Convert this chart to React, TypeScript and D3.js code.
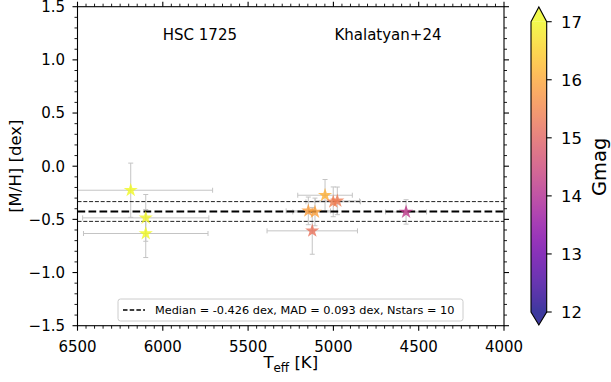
import * as d3 from "d3";

// stars in HSC 1725 (Khalatyan+24)
const teff = [6188, 6100, 6100, 5049, 5001, 4977, 5147, 5108, 5124, 4574];
const teffErr = [480, 370, 365, 160, 160, 130, 130, 130, 265, 120];
const mh = [-0.226, -0.486, -0.633, -0.273, -0.335, -0.326, -0.42, -0.43, -0.608, -0.43];
const mhErr = [0.255, 0.22, 0.226, 0.148, 0.14, 0.13, 0.13, 0.13, 0.22, 0.115];
const gmag = [17.0, 16.95, 17.0, 16.1, 15.4, 15.35, 15.85, 15.9, 15.2, 14.2];

const medianMH = -0.426;
const madMH = 0.093;
const legendLabel = "Median = -0.426 dex, MAD = 0.093 dex, Nstars = 10";
const clusterName = "HSC 1725";
const sourceName = "Khalatyan+24";
const cbarTicks = [12, 13, 14, 15, 16, 17];

const W = 611;
const H = 382;
const left = 77.5, right = 504, top = 6.7, bottom = 325.7;
const FONT = "DejaVu Sans, sans-serif";

const x = d3.scaleLinear().domain([6500, 4000]).range([left, right]);
const y = d3.scaleLinear().domain([-1.5, 1.5]).range([bottom, top]);
const cbar = d3.scaleLinear().domain([12, 17]).range([312, 21.7]);
const color = (g: number) => d3.interpolatePlasma((Math.min(17, Math.max(12, g)) - 12) / 5);

const star = d3.symbol(d3.symbolStar, 62)()!;

export default function App() {
  const xMajor = x.ticks(5);
  const xMinor = d3.range(4000, 6501, 50).filter((v) => v % 500 !== 0);
  const yMajor = y.ticks(6);
  const yMinor = d3.range(-15, 16, 1).filter((v) => v % 5 !== 0).map((v) => v / 10);
  const fmtY = d3.format(".1f");
  const cbX0 = 531, cbX1 = 546.7, cbMid = (cbX0 + cbX1) / 2;

  return (
    <>
      <style>{"body{margin:0}"}</style>
      <svg width={W} height={H} style={{ display: "block", fontFamily: FONT }}>
        <defs>
          <clipPath id="plot">
            <rect x={left} y={top} width={right - left} height={bottom - top} />
          </clipPath>
          <linearGradient id="plasma" x1="0" y1="1" x2="0" y2="0">
            {d3.range(0, 1.001, 0.05).map((t) => (
              <stop key={t} offset={t} stopColor={d3.interpolatePlasma(t)} />
            ))}
          </linearGradient>
        </defs>

        <g clipPath="url(#plot)">
          {/* error bars */}
          {teff.map((t, i) => {
            const cx = x(t), cy = y(mh[i]);
            const x0 = x(t + teffErr[i]), x1 = x(t - teffErr[i]);
            const y0 = y(mh[i] + mhErr[i]), y1 = y(mh[i] - mhErr[i]);
            return (
              <g key={i} stroke="#c4c4c4" strokeWidth={1}>
                <line x1={x0} x2={x1} y1={cy} y2={cy} />
                <line x1={cx} x2={cx} y1={y0} y2={y1} />
                <line x1={x0} x2={x0} y1={cy - 2.5} y2={cy + 2.5} />
                <line x1={x1} x2={x1} y1={cy - 2.5} y2={cy + 2.5} />
                <line x1={cx - 2.5} x2={cx + 2.5} y1={y0} y2={y0} />
                <line x1={cx - 2.5} x2={cx + 2.5} y1={y1} y2={y1} />
              </g>
            );
          })}
          {/* median and MAD */}
          <line x1={left} x2={right} y1={y(medianMH)} y2={y(medianMH)} stroke="#000" strokeWidth={2.1} strokeDasharray="7.7,3.3" />
          <line x1={left} x2={right} y1={y(medianMH + madMH)} y2={y(medianMH + madMH)} stroke="#222" strokeWidth={1} strokeDasharray="4,1.8" />
          <line x1={left} x2={right} y1={y(medianMH - madMH)} y2={y(medianMH - madMH)} stroke="#222" strokeWidth={1} strokeDasharray="4,1.8" />
          {/* stars */}
          {teff.map((t, i) => (
            <path key={i} d={star} transform={`translate(${x(t)},${y(mh[i])})`} fill={color(gmag[i])} fillOpacity={0.8} />
          ))}
        </g>

        {/* annotations */}
        <text x={left + 0.287 * (right - left)} y={40} fontSize={15} textAnchor="middle">{clusterName}</text>
        <text x={left + 0.728 * (right - left)} y={40} fontSize={15} textAnchor="middle">{sourceName}</text>

        {/* legend */}
        <g>
          <rect x={118} y={299} width={345} height={22} rx={2.5} fill="#fff" fillOpacity={0.8} stroke="#cccccc" strokeWidth={1} />
          <line x1={123} x2={145} y1={310} y2={310} stroke="#000" strokeWidth={1.7} strokeDasharray="4.5,2.2" />
          <text x={155} y={310} dy="0.36em" fontSize={11.3}>{legendLabel}</text>
        </g>

        {/* frame */}
        <rect x={left} y={top} width={right - left} height={bottom - top} fill="none" stroke="#000" strokeWidth={1.1} />

        {/* x ticks */}
        {xMajor.map((v) => (
          <g key={"xM" + v}>
            <line x1={x(v)} x2={x(v)} y1={bottom} y2={bottom + 5} stroke="#000" strokeWidth={1.1} />
            <line x1={x(v)} x2={x(v)} y1={top} y2={top - 5} stroke="#000" strokeWidth={1.1} />
            <text x={x(v)} y={352} fontSize={15} textAnchor="middle">{v}</text>
          </g>
        ))}
        {xMinor.map((v) => (
          <g key={"xm" + v} stroke="#000" strokeWidth={0.9}>
            <line x1={x(v)} x2={x(v)} y1={bottom} y2={bottom + 3} />
            <line x1={x(v)} x2={x(v)} y1={top} y2={top - 3} />
          </g>
        ))}

        {/* y ticks */}
        {yMajor.map((v) => (
          <g key={"yM" + v}>
            <line x1={left} x2={left - 5} y1={y(v)} y2={y(v)} stroke="#000" strokeWidth={1.1} />
            <line x1={right} x2={right + 5} y1={y(v)} y2={y(v)} stroke="#000" strokeWidth={1.1} />
            <text x={65} y={y(v)} dy="0.36em" fontSize={15} textAnchor="end">{fmtY(v)}</text>
          </g>
        ))}
        {yMinor.map((v) => (
          <g key={"ym" + v} stroke="#000" strokeWidth={0.9}>
            <line x1={left} x2={left - 3} y1={y(v)} y2={y(v)} />
            <line x1={right} x2={right + 3} y1={y(v)} y2={y(v)} />
          </g>
        ))}

        {/* axis labels */}
        <text transform={`translate(21,${(top + bottom) / 2}) rotate(-90)`} fontSize={16.5} textAnchor="middle">[M/H] [dex]</text>
        <text x={(left + right) / 2} y={368} fontSize={16.5} textAnchor="middle">
          T<tspan dy={4} fontSize={12}>eff</tspan><tspan dy={-4}> [K]</tspan>
        </text>

        {/* colorbar */}
        <g opacity={0.8}>
          <rect x={cbX0} y={cbar(17)} width={cbX1 - cbX0} height={cbar(12) - cbar(17)} fill="url(#plasma)" />
          <path d={`M${cbX0},${cbar(17)}L${cbMid},7L${cbX1},${cbar(17)}Z`} fill={d3.interpolatePlasma(1)} />
          <path d={`M${cbX0},${cbar(12)}L${cbMid},325L${cbX1},${cbar(12)}Z`} fill={d3.interpolatePlasma(0)} />
        </g>
        <path
          d={`M${cbX0},${cbar(17)}L${cbMid},7L${cbX1},${cbar(17)}L${cbX1},${cbar(12)}L${cbMid},325L${cbX0},${cbar(12)}Z`}
          fill="none" stroke="#000" strokeWidth={1.1}
        />
        {cbarTicks.map((v) => (
          <g key={"cb" + v}>
            <line x1={cbX1} x2={cbX1 + 5} y1={cbar(v)} y2={cbar(v)} stroke="#000" strokeWidth={1.1} />
            <text x={561} y={cbar(v)} dy="0.36em" fontSize={16.5}>{v}</text>
          </g>
        ))}
        <text transform={`translate(606,${(cbar(12) + cbar(17)) / 2}) rotate(-90)`} fontSize={19.5} textAnchor="middle">Gmag</text>
      </svg>
    </>
  );
}
